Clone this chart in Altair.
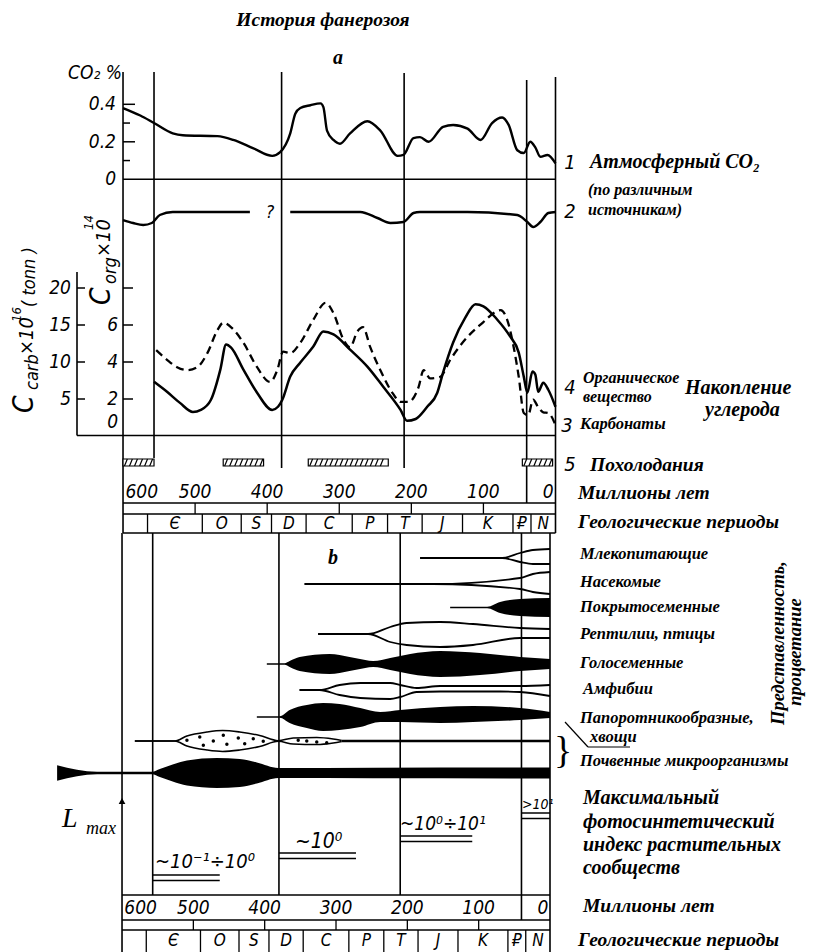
import altair as alt
import pandas as pd

W, H, M = 798, 944, 8
SANS = "Liberation Sans Narrow, DejaVu Sans Condensed, DejaVu Sans"
SERIF = "Liberation Serif"
TIMES = "Liberation Serif"

# ---------------- values ----------------
# 1  atmospheric CO2, %
co2_ma = [600, 576, 557, 531, 517, 469, 447, 419, 393, 382, 368, 361, 354, 340, 326, 322, 317, 308, 299, 285,
          261, 243, 219, 211, 197, 188, 176, 156, 142, 122, 104, 88, 74, 65, 53, 44, 35, 28, 21, 11, 0]
co2_pct = [0.38, 0.34, 0.30, 0.245, 0.235, 0.23, 0.21, 0.165, 0.125, 0.145, 0.245, 0.35, 0.38, 0.395, 0.405, 0.385,
           0.26, 0.21, 0.19, 0.245, 0.31, 0.26, 0.125, 0.13, 0.22, 0.225, 0.20, 0.28, 0.29, 0.27, 0.21, 0.30, 0.33,
           0.29, 0.155, 0.14, 0.20, 0.17, 0.12, 0.13, 0.085]
# 2  second CO2 estimate (relative level, two pieces around "?")
c2a_ma = [600, 586, 572, 560, 549, 531, 424]
c2a_v = [-0.8, -1.1, -1.3, -1.1, -0.3, 0, 0]
c2b_ma = [368, 271, 247, 229, 211, 197, 188, 122, 53, 39, 31, 21, 10, 0]
c2b_v = [0, 0, -0.6, -1.1, -1.0, -0.1, 0, 0, -0.3, -1.0, -1.5, -1.0, -0.1, 0]
# 4  organic carbon, C_org x10^14
corg_ma = [557, 539, 521, 503, 492, 478, 465, 457, 450, 433, 414, 393, 385, 379, 368, 354, 336, 322, 308, 285,
           261, 239, 215, 206, 194, 178, 164, 156, 142, 125, 111, 100, 81, 63, 51, 44, 39, 32, 28, 24, 17, 10, 0]
corg_v = [2.93, 2.39, 1.79, 1.30, 1.41, 1.96, 3.59, 4.95, 4.78, 3.59, 2.34, 1.41, 1.58, 1.96, 3.21, 3.97, 4.84,
          5.65, 5.49, 4.67, 3.75, 2.66, 1.41, 0.82, 0.92, 1.58, 2.34, 3.42, 5.05, 6.41, 7.12, 7.01, 6.30, 5.38,
          4.51, 3.21, 2.34, 3.48, 3.32, 2.39, 2.88, 2.50, 1.58]
# 3  carbonates, C_carb x10^16
ccarb_ma = [554, 539, 525, 511, 497, 483, 469, 461, 449, 433, 414, 396, 386, 378, 368, 354, 336, 319, 308, 294,
            285, 275, 267, 257, 243, 226, 215, 204, 190, 183, 174, 160, 146, 122, 100, 86, 76, 67, 58, 51,
            44, 38, 31, 24, 17, 10, 0]
ccarb_v = [11.6, 10.3, 9.3, 8.9, 9.3, 11.2, 14.3, 15.3, 14.6, 12.6, 9.3, 7.3, 8.9, 11.4, 11.2, 12.6, 15.7, 18.0,
           16.6, 13.0, 12.0, 14.1, 14.7, 12.0, 8.9, 5.8, 4.6, 4.6, 6.6, 8.9, 7.8, 8.0, 10.3, 13.4, 15.4, 16.6,
           17.0, 15.7, 12.0, 8.0, 3.1, 2.8, 4.9, 3.9, 3.2, 3.1, 1.5]
co2_major = [0.2, 0.4]
co2_minor = [0.1, 0.3]
co2_lab_v = [0, 0.2, 0.4]
co2_lab_t = ["0", "0.2", "0.4"]
corg_ticks = [2, 4, 6, 8]
corg_lab_v = [2, 4, 6]
ccarb_ticks = [5, 10, 15, 20]
# 5  cooling periods, Ma
cool_from = [600, 461, 343, 46]
cool_to = [557, 405, 232, 4]
# time scale
age_ticks = [600, 500, 400, 300, 200, 100, 0]
age_inner = [500, 400, 300, 200, 100]
age_lab_at = [574, 500, 400, 300, 200, 100, 10]
period_names = ["", "Є", "O", "S", "D", "C", "P", "T", "J", "K", "₽", "N"]
period_bounds = [600, 566, 490, 436, 394, 346, 282, 233, 185, 129, 59, 34, 0]
era_bounds = [557, 380, 210, 40]
# L_max levels
lmax_text = ["~10⁻¹÷10⁰", "~10⁰", "~10⁰÷10¹", ">10¹"]
lmax_from = [557, 380, 210, 40]
lmax_to = [463, 272, 109, 0]

# b: representation (half-widths above / below the axis of each group)
mam_ma = [182, 67, 42, 24, 0];            mam_up = [0, 0, 5, 8, 9];          mam_dn = [0, 0, 4, 6, 6]
ins_ma = [344, 164, 42, 24, 0];           ins_up = [0, 0, 6, 10, 12];        ins_dn = [0, 0, 5, 8, 10]
ang_ma = [140, 88, 70, 42, 0];            ang_hw = [0.8, 0.8, 5.5, 8.5, 9.5]
rep_ma = [325, 255, 224, 201, 154, 108, 42, 0]
rep_up = [0, 0, 7, 11, 12, 10, 6, 5]
rep_dn = [0, 0, 8, 11, 13, 11, 4, 4]
gym_ma = [397, 372, 365, 351, 309, 281, 259, 248, 224, 196, 154, 98, 42, 0]
gym_hw = [0.8, 0.8, 3, 7, 10, 7, 4, 3, 6, 10, 13, 11, 7, 5]
amp_ma = [351, 323, 295, 266, 224, 210, 187, 154, 70, 42, 0]
amp_up = [0, 0, 5, 7, 7, 5, 2, 4, 4, 4, 5]
amp_dn = [0, 0, 5, 8, 9, 7, 2, 1.5, 1.5, 2, 6]
fern_ma = [411, 379, 365, 341, 318, 295, 266, 238, 210, 154, 108, 42, 0]
fern_up = [0.8, 0.8, 7, 12, 14, 13, 9, 5, 7, 10, 11, 9, 5]
fern_dn = [0.8, 0.8, 6, 11, 14, 13, 10, 5, 5, 6, 5, 3, 1]
hor_ma = [582, 526, 509, 481, 459, 435, 407, 381, 360, 327, 304, 292]
hor_hw = [0, 0, 5, 9, 10.5, 9, 5.5, 0.3, 3, 3.5, 2, 0.5]
hor2_ma = [292, 0];                        hor2_hw = [1.3, 1.3]
hor_dot_ma = [509, 491, 486, 472, 458, 453, 437, 428, 416, 402, 353, 341, 327, 313]
hor_dot_dy = [-0.7, -4, 4.3, 0, -5.7, 3.3, -3, 2.7, -2.3, 0.3, -0.7, 0, 1, 1.7]
soil_ma = [691, 635, 558, 547, 529, 509, 467, 435, 411, 381, 248, 0]
soil_hw = [7.7, 1.2, 1.2, 4, 8.5, 12.5, 15, 14, 10.5, 5, 5.3, 5.5]

# ---------------- scales (Ma -> pixels of each panel) ----------------
def xs(x0, k):
    return alt.Scale(domain=[(x0 - M - W) / k, (x0 - M) / k], reverse=True, nice=False, zero=False)

XA = xs(555.5, 0.7208)
XB = xs(550.0, 0.7133)


def ys(d0, d1, p0, p1):
    return alt.Scale(domain=[d0, d1], range=[p0 - M, p1 - M], nice=False, zero=False)

Y_CO2 = ys(0, 0.4, 179.3, 104.3)
Y_C2 = ys(-1.5, 0, 227, 212)
Y_CORG = ys(0, 8, 436, 288)
Y_CCARB = ys(0, 20, 436, 288)

layers = []
add = layers.append


def curve(ma, v, ysc, sw=2.4, dash=None):
    mk = dict(color="black", strokeWidth=sw, interpolate="monotone")
    if dash:
        mk["strokeDash"] = dash
    df = pd.DataFrame({"ma": ma, "v": v})
    return alt.Chart(df).mark_line(**mk).encode(
        x=alt.X("ma:Q", scale=XA, axis=None), y=alt.Y("v:Q", scale=ysc, axis=None))


def yticks(vals, ysc, x1, x2, sw=1.5):
    df = pd.DataFrame({"v": vals})
    return alt.Chart(df).mark_rule(color="black", strokeWidth=sw).encode(
        y=alt.Y("v:Q", scale=ysc, axis=None), x=alt.value(x1 - M), x2=alt.value(x2 - M))


def ylabels(vals, texts, ysc, xr, size, dy=0):
    df = pd.DataFrame({"v": vals, "t": texts})
    return alt.Chart(df).mark_text(align="right", baseline="middle", font=SANS, fontStyle="italic",
                                   fontSize=size, dy=dy, color="black").encode(
        y=alt.Y("v:Q", scale=ysc, axis=None), x=alt.value(xr - M), text="t:N")


def vlines(rows, xsc, sw=1.6):
    df = pd.DataFrame(rows, columns=["ma", "y1", "y2"])
    df["y1"] -= M
    df["y2"] -= M
    return alt.Chart(df).mark_rule(color="black", strokeWidth=sw).encode(
        x=alt.X("ma:Q", scale=xsc, axis=None), y=alt.Y("y1:Q", scale=None), y2="y2:Q")


def hlines(rows, xsc, sw=1.6):
    df = pd.DataFrame(rows, columns=["m1", "m2", "y"])
    df["y"] -= M
    return alt.Chart(df).mark_rule(color="black", strokeWidth=sw).encode(
        x=alt.X("m1:Q", scale=xsc, axis=None), x2="m2:Q", y=alt.Y("y:Q", scale=None))


def psegs(rows, sw=1.5):
    df = pd.DataFrame(rows, columns=["x1", "y1", "x2", "y2"]) - M
    return alt.Chart(df).mark_rule(color="black", strokeWidth=sw).encode(
        x=alt.X("x1:Q", scale=None), x2="x2:Q", y=alt.Y("y1:Q", scale=None), y2="y2:Q")


def texts(rows, font, style="italic", weight="normal", align="left", baseline="middle", angle=0):
    df = pd.DataFrame(rows, columns=["t", "px", "py", "fs"])
    df["px"] -= M
    df["py"] -= M
    return alt.Chart(df).mark_text(font=font, fontStyle=style, fontWeight=weight, align=align,
                                   baseline=baseline, angle=angle, color="black").encode(
        x=alt.X("px:Q", scale=None), y=alt.Y("py:Q", scale=None), text="t:N",
        size=alt.Size("fs:Q", scale=None, legend=None))


def matext(mas, labels, y, xsc, size):
    df = pd.DataFrame({"ma": mas, "t": labels})
    return alt.Chart(df).mark_text(align="center", baseline="middle", font=SANS, fontStyle="italic",
                                   fontSize=size, color="black").encode(
        x=alt.X("ma:Q", scale=xsc, axis=None), y=alt.value(y - M), text="t:N")


def spindle(ma, up, dn, cy, filled, sw=1.8):
    df = pd.DataFrame({"ma": ma, "top": [cy - M - u for u in up], "bot": [cy - M + d for d in dn]})
    x = alt.X("ma:Q", scale=XB, axis=None)
    if filled:
        return alt.Chart(df).mark_area(color="black", interpolate="monotone").encode(
            x=x, y=alt.Y("top:Q", scale=None), y2="bot:Q")
    long = df.melt(id_vars="ma", value_vars=["top", "bot"], var_name="edge", value_name="py")
    return alt.Chart(long).mark_line(color="black", strokeWidth=sw, interpolate="monotone").encode(
        x=x, y=alt.Y("py:Q", scale=None), detail="edge:N")


# ---------------- panel a : frame ----------------
add(vlines([(600, 72, 533), (0, 77, 533), (557, 72, 458), (380, 72, 468), (210, 73, 468), (40, 80, 503)], XA))
add(hlines([(600, 0, 179.3), (600, 0, 503), (600, 0, 514), (600, 0, 533)], XA))
add(psegs([(77, 272, 77, 435.5), (77, 435.5, 555.5, 435.5)], sw=1.6))
add(vlines([(a, 503, 514) for a in age_inner], XA, sw=1.3))
add(vlines([(b, 514, 533) for b in period_bounds[1:-1]], XA, sw=1.3))

# axes of panel a
add(yticks(co2_major, Y_CO2, 123, 135))
add(yticks(co2_minor, Y_CO2, 123, 130))
add(ylabels(co2_lab_v, co2_lab_t, Y_CO2, 116, 19))
add(yticks(corg_ticks, Y_CORG, 123, 133))
add(ylabels(corg_lab_v, [str(v) for v in corg_lab_v], Y_CORG, 118, 19))
add(ylabels([0], ["0"], Y_CORG, 118, 19, dy=-14))
add(yticks(ccarb_ticks, Y_CCARB, 77, 85))
add(ylabels(ccarb_ticks, [str(v) for v in ccarb_ticks], Y_CCARB, 71, 19))

# curves
add(curve(co2_ma, co2_pct, Y_CO2))
add(curve(c2a_ma, c2a_v, Y_C2))
add(curve(c2b_ma, c2b_v, Y_C2))
add(curve(corg_ma, corg_v, Y_CORG, sw=2.5))
add(curve(ccarb_ma, ccarb_v, Y_CCARB, sw=2.3, dash=[8, 5]))

# cooling bars (5)
cool_df = pd.DataFrame({"a": cool_from, "b": cool_to})
add(alt.Chart(cool_df).mark_rect(fill="white", stroke="black", strokeWidth=1.2).encode(
    x=alt.X("a:Q", scale=XA, axis=None), x2="b:Q", y=alt.value(459 - M), y2=alt.value(466 - M)))
slash = []
for a, b in zip(cool_from, cool_to):
    m = a - 2
    while m - 4 > b:
        slash.append((m, m - 4))
        m -= 7
sl_df = pd.DataFrame(slash, columns=["m1", "m2"])
add(alt.Chart(sl_df).mark_rule(color="black", strokeWidth=1.2).encode(
    x=alt.X("m1:Q", scale=XA, axis=None), x2="m2:Q", y=alt.value(466 - M), y2=alt.value(459 - M)))

# time axis of panel a
add(matext(age_lab_at, [str(v) for v in age_ticks], 492, XA, 19))
mids = [(period_bounds[i] + period_bounds[i + 1]) / 2 for i in range(len(period_names))]
add(matext(mids, period_names, 524, XA, 17))

# ---------------- panel b ----------------
add(vlines([(600, 533, 952), (0, 533, 952), (557, 533, 895), (380, 533, 895), (210, 533, 895), (40, 533, 920)], XB))
add(hlines([(600, 0, 895), (600, 0, 920), (600, 0, 930)], XB))
add(vlines([(a, 920, 930) for a in age_inner], XB, sw=1.3))
add(vlines([(b, 930, 952) for b in period_bounds[1:-1]], XB, sw=1.3))
add(matext(age_lab_at, [str(v) for v in age_ticks], 908, XB, 19))
add(matext(mids, period_names, 941, XB, 17))

add(spindle(mam_ma, mam_up, mam_dn, 558, False))
add(spindle(ins_ma, ins_up, ins_dn, 584, False))
add(spindle(ang_ma, ang_hw, ang_hw, 607.5, True))
add(spindle(rep_ma, rep_up, rep_dn, 634, False))
add(spindle(gym_ma, gym_hw, gym_hw, 664, True))
add(spindle(amp_ma, amp_up, amp_dn, 690, False))
add(spindle(fern_ma, fern_up, fern_dn, 717, True))
add(spindle(hor_ma, hor_hw, hor_hw, 741, False, sw=1.6))
add(spindle(hor2_ma, hor2_hw, hor2_hw, 741, True))
add(spindle(soil_ma, soil_hw, soil_hw, 773, True))
dots = pd.DataFrame({"ma": hor_dot_ma, "py": [741 - M + d for d in hor_dot_dy]})
add(alt.Chart(dots).mark_circle(color="black", size=12, opacity=1).encode(
    x=alt.X("ma:Q", scale=XB, axis=None), y=alt.Y("py:Q", scale=None)))

# L_max
add(alt.Chart(pd.DataFrame({"ma": [600]})).mark_point(shape="triangle-up", filled=True, color="black",
                                                        size=45, opacity=1).encode(
    x=alt.X("ma:Q", scale=XB, axis=None), y=alt.value(801 - M)))
lm_y = [875, 853, 836, 813]
lm_rows = []
for a, b, y in zip(lmax_from, lmax_to, lm_y):
    lm_rows += [(a, b, y), (a, b, y + 5.5)]
add(hlines(lm_rows, XB, sw=1.5))
add(texts([(lmax_text[0], 155, 868, 20), (lmax_text[1], 295, 848, 21), (lmax_text[2], 400, 830, 19),
           (lmax_text[3], 522, 809, 14)], SANS, baseline="alphabetic"))
add(texts([("L", 62, 827, 28)], TIMES, baseline="alphabetic"))
add(texts([("max", 86, 834, 18)], TIMES, baseline="alphabetic"))

# brace and pointer
add(psegs([(565, 722, 588, 747), (588, 747, 630, 747)], sw=1.2))
add(texts([("}", 563, 752, 38)], TIMES, style="normal", align="center"))

# ---------------- texts ----------------
add(texts([("История фанерозоя", 323, 20, 19.5), ("a", 338, 58, 20), ("b", 333, 558, 20)],
          SERIF, weight="bold", align="center"))
add(texts([("CO₂ %", 95, 73, 19), ("?", 270, 213, 18), ("1", 570, 163, 20), ("2", 570, 212, 20),
           ("4", 570, 388, 20), ("3", 567, 426, 20), ("5", 570, 465, 20)], SANS, align="center"))
add(texts([
    ("Атмосферный CO₂", 590, 162, 20), ("(по различным", 588, 190, 16), ("источникам)", 588, 210, 16),
    ("Органическое", 583, 378, 16), ("вещество", 583, 397, 16), ("Накопление", 685, 388, 20),
    ("углерода", 705, 410, 20), ("Карбонаты", 580, 424, 16.5), ("Похолодания", 590, 465, 19.5),
    ("Миллионы лет", 578, 493, 19.5), ("Геологические периоды", 578, 522, 19.5),
    ("Млекопитающие", 580, 554, 16.5), ("Насекомые", 580, 582, 16.5), ("Покрытосеменные", 580, 607, 16.5),
    ("Рептилии, птицы", 580, 634, 16.5), ("Голосеменные", 580, 663, 16.5), ("Амфибии", 583, 689, 16.5),
    ("Папоротникообразные,", 580, 718, 16.5), ("хвощи", 590, 737, 16.5),
    ("Почвенные микроорганизмы", 580, 761, 16.5),
    ("Максимальный", 583, 798, 20), ("фотосинтетический", 583, 822, 20), ("индекс растительных", 583, 845, 20),
    ("сообществ", 583, 868, 20), ("Миллионы лет", 583, 906, 19.5), ("Геологические периоды", 578, 940, 19.5),
], SERIF, weight="bold"))
add(texts([("Представленность,", 784, 643, 18.5), ("процветание", 801, 652, 18.5)], SERIF, weight="bold",
          align="center", baseline="alphabetic", angle=270))
add(texts([("C", 33, 413, 28), ("carb", 38, 390, 18), ("×10", 33, 355, 20), ("16", 21, 322, 13),
           ("( tonn )", 35, 307, 18), ("C", 110, 305, 28), ("org", 116, 284, 18), ("×10", 110, 257, 20),
           ("14", 93, 230, 13)], SANS, baseline="alphabetic", angle=270))

chart = alt.layer(*layers).resolve_scale(x="independent", y="independent").properties(
    width=W, height=H, padding=0, autosize=alt.AutoSizeParams(type="none")
).configure_view(stroke=None)

chart.save("out.html", embed_options={"renderer": "svg", "actions": False})
